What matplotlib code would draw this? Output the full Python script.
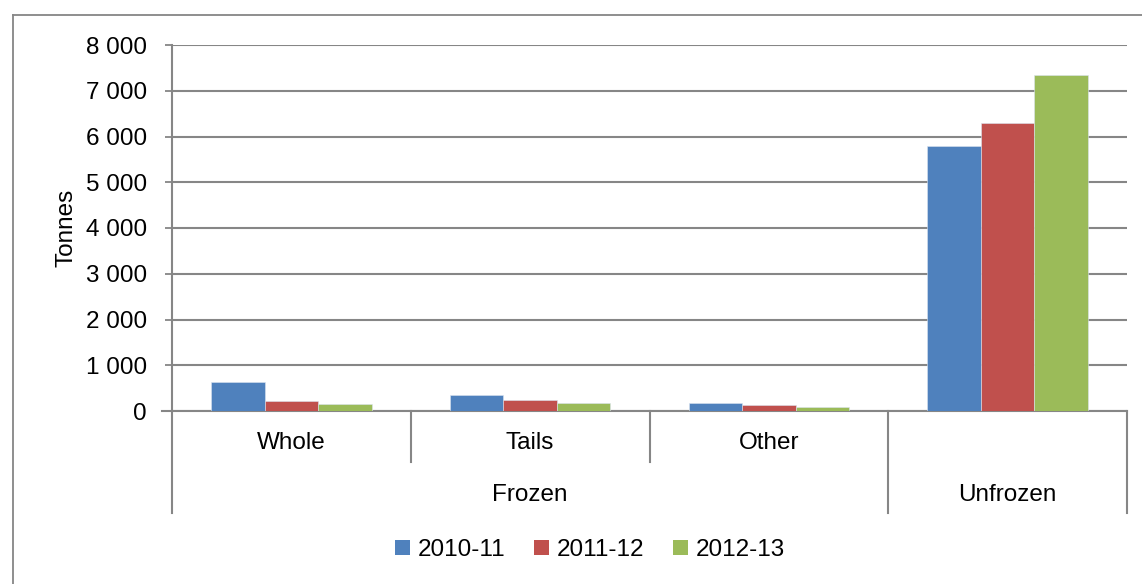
import matplotlib
matplotlib.use("Agg")
import matplotlib.pyplot as plt
import matplotlib.transforms as mtransforms
from matplotlib.lines import Line2D
from matplotlib.patches import Patch
import numpy as np

plt.rcParams['font.family'] = ['Liberation Sans', 'DejaVu Sans']

categories = ["Whole", "Tails", "Other", "Unfrozen"]
groups = ["Frozen", "Frozen", "Frozen", "Unfrozen"]
series_names = ["2010-11", "2011-12", "2012-13"]
v_2010_11 = [640, 357, 182, 5790]
v_2011_12 = [226, 248, 138, 6285]
v_2012_13 = [160, 182, 94, 7350]
colors = ["#4F81BD", "#C0504D", "#9BBB59"]
y_ticks = [0, 1000, 2000, 3000, 4000, 5000, 6000, 7000, 8000]

W, H = 1142, 584
fig = plt.figure(figsize=(W / 100, H / 100), dpi=100)
ax = fig.add_axes([172 / W, 1 - 411 / H, (1127 - 172) / W, (411 - 45) / H])

grey = "#868686"
fs = 17.5
x = np.arange(len(categories))
bw = 0.224
for i, (vals, c) in enumerate(zip([v_2010_11, v_2011_12, v_2012_13], colors)):
    ax.bar(x + (i - 1) * bw, vals, width=bw, color=c, edgecolor="#dbe4f0", linewidth=0.4, zorder=3)

ax.set_xlim(-0.5, len(categories) - 0.5)
ax.set_ylim(0, 8000)
ax.set_yticks(y_ticks)
ax.set_yticklabels([f"{v:,}".replace(",", " ") for v in y_ticks], fontsize=fs)
ax.yaxis.grid(True, color=grey, linewidth=1.5, zorder=0)
ax.set_axisbelow(True)
ax.set_xticks([])
for s in ["top", "right"]:
    ax.spines[s].set_visible(False)
for s in ["left", "bottom"]:
    ax.spines[s].set_color(grey)
    ax.spines[s].set_linewidth(1.5)
ax.tick_params(axis="y", length=5, width=1.3, color=grey, pad=13)
ax.set_ylabel("Tonnes", fontsize=fs, labelpad=6)

# multi-level category axis
trans = mtransforms.blended_transform_factory(ax.transData, ax.transAxes)
ax_h = 366.0
short_y = -(462 - 411) / ax_h
long_y = -(513 - 411) / ax_h
bounds = np.arange(len(categories) + 1) - 0.5
for j, b in enumerate(bounds):
    if j == 0 or j == len(bounds) - 1:
        yb = long_y
    else:
        yb = long_y if groups[j - 1] != groups[j] else short_y
    ax.add_line(Line2D([b, b], [0, yb], transform=trans, color=grey, linewidth=1.5, clip_on=False))
ax.add_line(Line2D([-0.5 - 0.04, -0.5], [0, 0], transform=trans, color=grey, linewidth=1.5, clip_on=False))

lab_y1 = -(443 - 411) / ax_h
lab_y2 = -(495 - 411) / ax_h
for xi, cat in enumerate(categories):
    if groups[xi] == "Frozen":
        ax.text(xi, lab_y1, cat, transform=trans, ha="center", va="center", fontsize=fs)
# group labels
uniq = []
for g in groups:
    if g not in uniq:
        uniq.append(g)
for g in uniq:
    idx = [i for i, gg in enumerate(groups) if gg == g]
    ax.text((idx[0] + idx[-1]) / 2, lab_y2, g, transform=trans, ha="center", va="center", fontsize=fs)

# legend
handles = [Patch(facecolor=c, edgecolor="none") for c in colors]
fig.legend(handles, series_names, loc="center", bbox_to_anchor=(590 / W, 1 - 550 / H),
           ncol=3, frameon=False, fontsize=fs, handlelength=0.62, handleheight=0.62,
           handletextpad=0.3, columnspacing=1.2)

# outer chart border
fig.add_artist(Line2D([13 / W, 13 / W], [0, 1 - 15 / H], transform=fig.transFigure, color=grey, linewidth=1.3))
fig.add_artist(Line2D([13 / W, 1], [1 - 15 / H, 1 - 15 / H], transform=fig.transFigure, color=grey, linewidth=1.3))

fig.savefig("out.png", dpi=100)
